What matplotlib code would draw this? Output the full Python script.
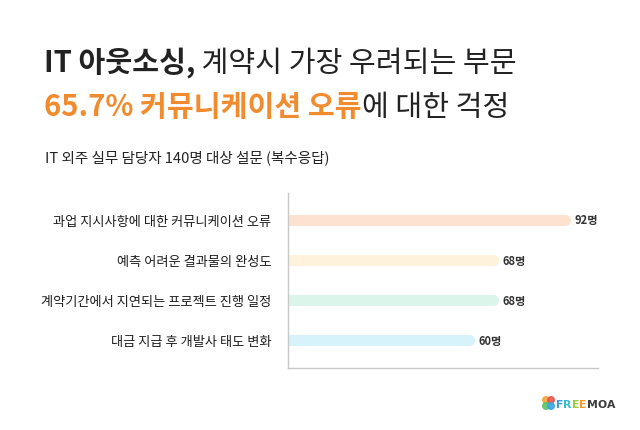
import matplotlib
matplotlib.use('Agg')
import matplotlib.pyplot as plt
from matplotlib.patches import Circle

plt.rcParams['font.family'] = ['Noto Sans CJK KR', 'DejaVu Sans']

categories = ['과업 지시사항에 대한 커뮤니케이션 오류',
              '예측 어려운 결과물의 완성도',
              '계약기간에서 지연되는 프로젝트 진행 일정',
              '대금 지급 후 개발사 태도 변화']
values = [92, 68, 68, 60]
value_labels = ['92명', '68명', '68명', '60명']
bar_colors = ['#fde3cf', '#fef3da', '#dbf5ea', '#d6f2fa']

title_1 = ['IT 아웃소싱,', ' 계약시 가장 우려되는 부문']
title_2 = ['65.7% 커뮤니케이션 오류', '에 대한 걱정']
subtitle = 'IT 외주 실무 담당자 140명 대상 설문 (복수응답)'
logo_letters = ['F', 'R', 'E', 'E', 'M', 'O', 'A']
logo_colors = ['#3a9be6', '#35bccf', '#9ccb3b', '#f39a2b', '#3d3d3d', '#3d3d3d', '#3d3d3d']

W, H = 640, 431
fig = plt.figure(figsize=(W / 100, H / 100), dpi=100)
fig.patch.set_facecolor('white')
renderer = fig.canvas.get_renderer()


def fx(px):
    return px / W


def fy(py):
    return 1 - py / H


def chain_text(x, y, parts, colors, weights, size):
    # draw text pieces one after another on the same baseline
    for part, c, w in zip(parts, colors, weights):
        t = fig.text(fx(x), fy(y), part, color=c, fontsize=size, fontweight=w,
                     ha='left', va='baseline')
        bb = t.get_window_extent(renderer=renderer)
        x += bb.width


chain_text(44, 72, title_1, ['#222222', '#222222'], ['bold', 'normal'], 21)
chain_text(44, 116, title_2, ['#f28a2e', '#222222'], ['bold', 'normal'], 21)
fig.text(fx(45), fy(162), subtitle, color='#222222', fontsize=10.5,
         ha='left', va='baseline')

# chart
ax = fig.add_axes([fx(288), fy(369), fx(598) - fx(288), fy(194) - fy(369)])
ypos = list(range(len(categories)))
for y, v, c in zip(ypos, values, bar_colors):
    ax.hlines(y, 0, v, colors=c, linewidth=8, capstyle='round')
for y, v, lab in zip(ypos, values, value_labels):
    ax.text(v + 3.3, y, lab, fontsize=8, fontweight='bold', color='#333333',
            ha='left', va='center')

ax.set_xlim(0, 103)
ax.set_ylim(3.7, -0.675)
ax.set_xticks([])
ax.set_yticks(ypos)
ax.set_yticklabels(categories, fontsize=9.5, color='#1e1e1e')
ax.tick_params(axis='y', length=0, pad=12)
for s in ['top', 'right']:
    ax.spines[s].set_visible(False)
for s in ['left', 'bottom']:
    ax.spines[s].set_color('#c8c8c8')
    ax.spines[s].set_linewidth(1)

# logo
lax = fig.add_axes([0, 0, 1, 1], facecolor='none')
lax.set_xlim(0, W)
lax.set_ylim(H, 0)
lax.axis('off')
for (cx, cy), c in zip([(546, 401), (551, 401), (546, 407), (551, 407)],
                       ['#f3a73b', '#e8574a', '#5cc36a', '#3aa7e0']):
    lax.add_patch(Circle((cx, cy), 3.3, color=c, alpha=0.9))
x = 556
for ch, c in zip(logo_letters, logo_colors):
    t = fig.text(fx(x), fy(408), ch, color=c, fontsize=7.8, fontweight='bold',
                 family=['DejaVu Sans'], ha='left', va='baseline')
    x += t.get_window_extent(renderer=renderer).width

fig.savefig('out.png', dpi=100)
